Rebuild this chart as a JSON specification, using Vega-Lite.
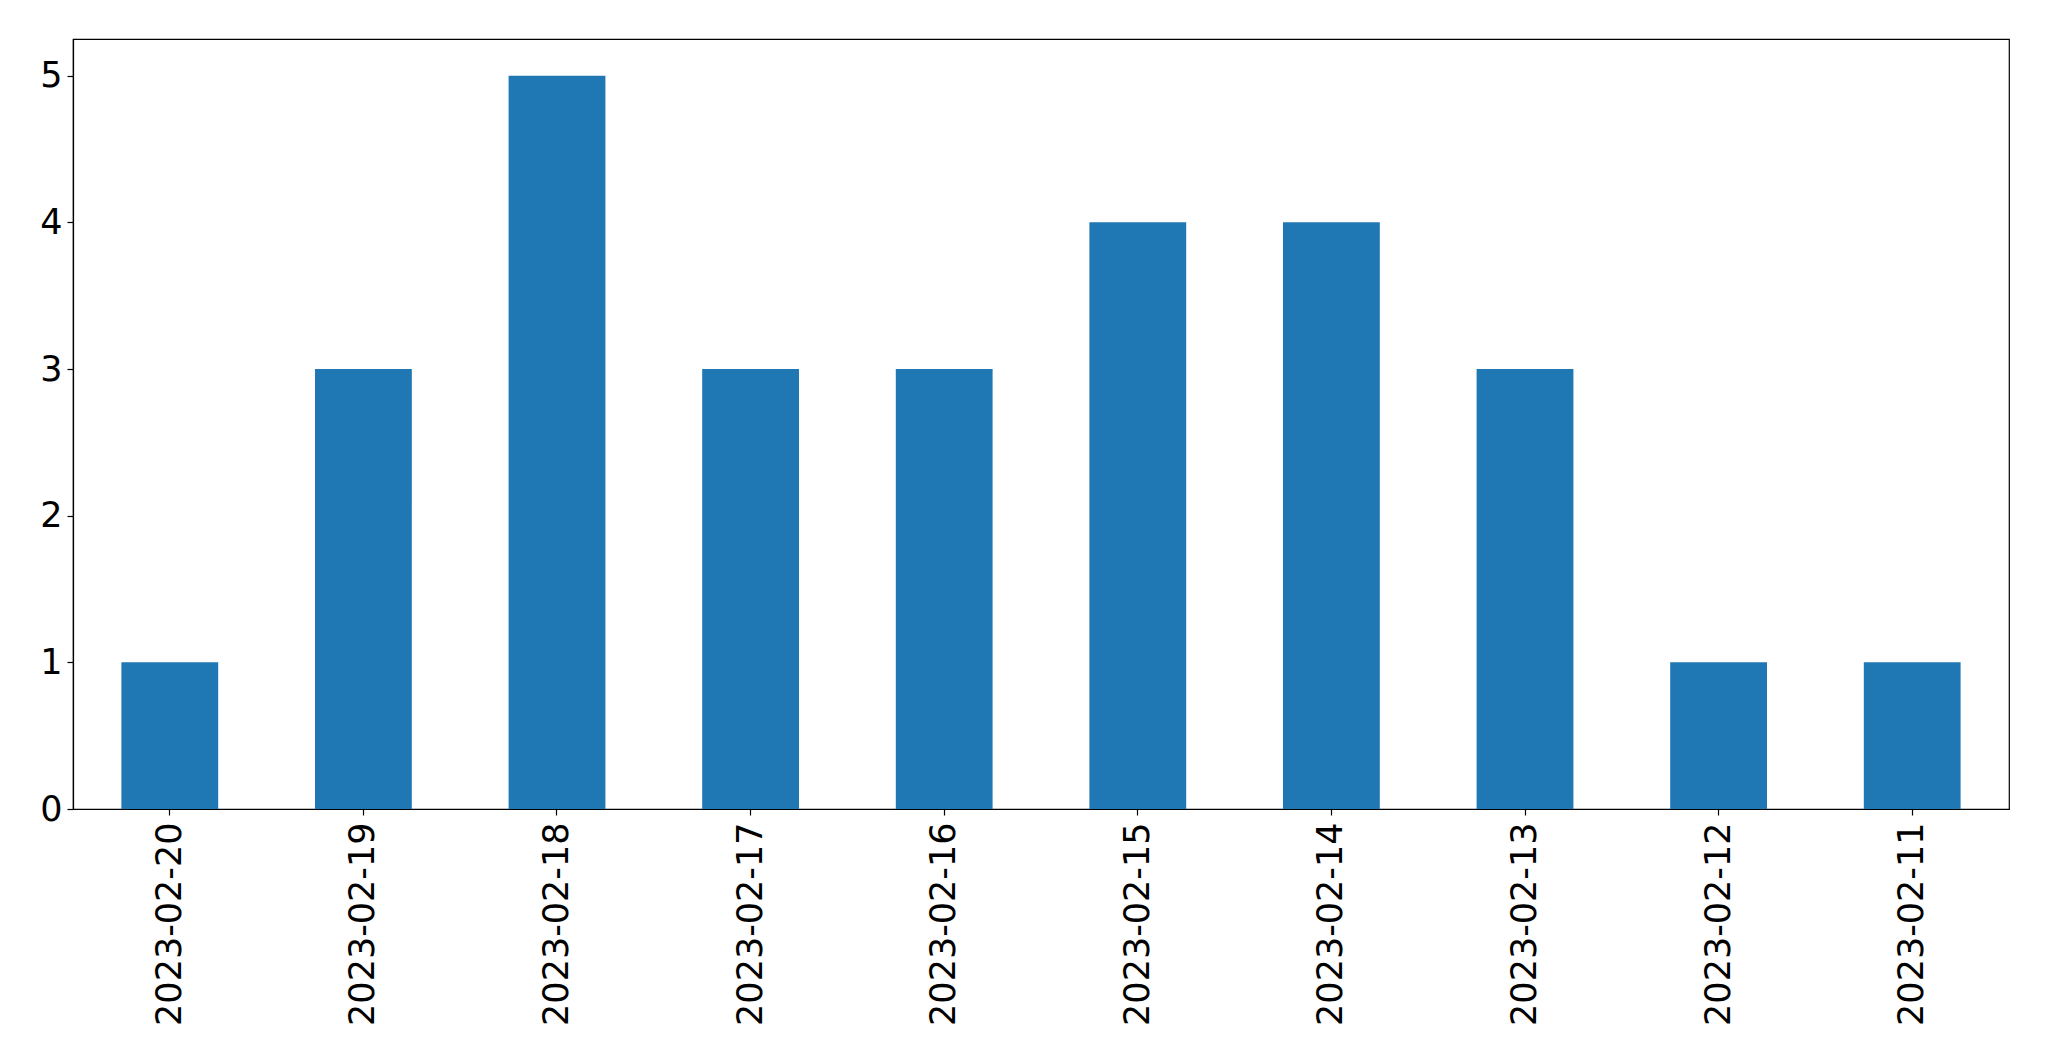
{
  "$schema": "https://vega.github.io/schema/vega-lite/v6.json",
  "width": 1936,
  "height": 770,
  "autosize": {"type": "none"},
  "padding": {"left": 73, "top": 39, "right": 40, "bottom": 252},
  "background": "white",
  "config": {
    "view": {"stroke": "black", "strokeWidth": 1.2},
    "axis": {
      "labelFont": "DejaVu Sans",
      "labelFontSize": 35,
      "labelColor": "black",
      "labelLimit": 0,
      "domainColor": "black",
      "tickColor": "black",
      "tickSize": 6,
      "tickWidth": 1.2,
      "domainWidth": 1.2,
      "grid": false,
      "title": null
    }
  },
  "data": {
    "values": [
      {"date": "2023-02-20", "count": 1},
      {"date": "2023-02-19", "count": 3},
      {"date": "2023-02-18", "count": 5},
      {"date": "2023-02-17", "count": 3},
      {"date": "2023-02-16", "count": 3},
      {"date": "2023-02-15", "count": 4},
      {"date": "2023-02-14", "count": 4},
      {"date": "2023-02-13", "count": 3},
      {"date": "2023-02-12", "count": 1},
      {"date": "2023-02-11", "count": 1}
    ]
  },
  "mark": {"type": "bar", "color": "#1f77b4"},
  "encoding": {
    "x": {
      "field": "date",
      "type": "nominal",
      "sort": null,
      "scale": {"paddingInner": 0.5, "paddingOuter": 0.25},
      "axis": {"labelAngle": -90, "labelAlign": "right", "labelBaseline": "middle", "labelPadding": 7}
    },
    "y": {
      "field": "count",
      "type": "quantitative",
      "scale": {"domain": [0, 5.25], "nice": false},
      "axis": {"values": [0, 1, 2, 3, 4, 5], "labelPadding": 5}
    }
  }
}
